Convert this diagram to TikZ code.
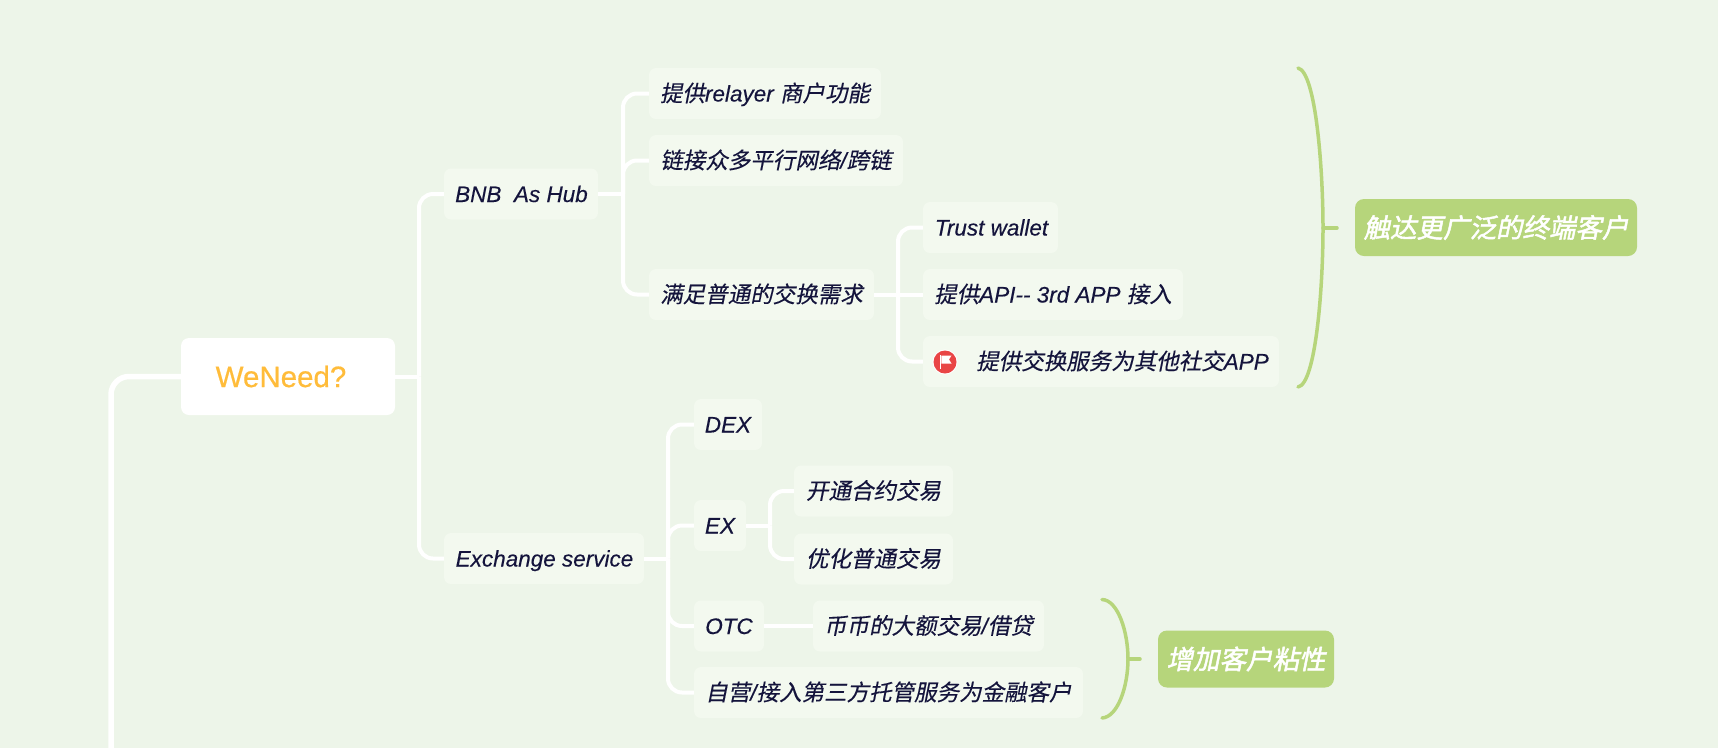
\documentclass[tikz,border=0pt]{standalone}
\usepackage{fontspec}
\setmainfont[ItalicFeatures={FakeBold=0.25}]{Liberation Sans}
\newfontfamily\rootfont[FakeBold=0.5]{Liberation Sans}
\newfontfamily\cjk[FakeSlant=0.2,FakeBold=0.25]{Noto Sans CJK SC}
\newfontfamily\cjkb[FakeSlant=0.2,FakeBold=1.8]{Noto Sans CJK SC}
\definecolor{bgc}{HTML}{EDF5E9}
\definecolor{leafc}{HTML}{F3F9EF}
\definecolor{inkc}{HTML}{14143C}
\definecolor{greenc}{HTML}{B6D57B}
\definecolor{orangec}{HTML}{FFBC3A}
\definecolor{flagc}{HTML}{E94545}
\tikzset{
  x=1pt,y=-1pt,
  leaf/.style={fill=leafc,rounded corners=7pt,inner sep=0pt,text=inkc,
    font=\itshape\fontsize{22.5}{27}\selectfont,minimum height=51pt,
    text height=21pt,text depth=5pt},
  rootbox/.style={fill=white,rounded corners=8pt,inner sep=0pt,text=orangec,
    font=\rootfont\fontsize{29.5}{34}\selectfont,minimum width=214pt,minimum height=77pt},
  summary/.style={fill=greenc,rounded corners=9pt,inner sep=0pt,text=white,
    font=\cjkb\fontsize{26.5}{32}\selectfont,minimum height=57pt},
  link/.style={draw=white,line width=4pt,rounded corners=14pt},
  spine/.style={draw=white,line width=5.5pt,rounded corners=18pt},
  bracket/.style={draw=greenc,line width=3.5pt,line cap=round},
}
\begin{document}
\begin{tikzpicture}
\useasboundingbox (0,0) rectangle (1718,748);
\fill[bgc] (0,0) rectangle (1718,748);

\coordinate (spineend) at (111,752);
\coordinate (jroot) at (419,376.5);
\coordinate (jbnb) at (623,194);
\coordinate (jswap) at (898,294.5);
\coordinate (jex) at (668,558.5);
\coordinate (jsub) at (770,525.5);

\node[rootbox] (root) at (288,376.5) {\hspace*{-14pt}WeNeed?};
\node[leaf,minimum width=154pt] (bnb) at (521,194) {\hspace*{1pt}BNB\ \ As Hub};
\node[leaf,minimum width=200pt] (exch) at (544,558.5) {\hspace*{1pt}Exchange service};
\node[leaf,minimum width=232pt] (relayer) at (765,93.5) {{\cjk 提供}relayer {\cjk 商户功能}};
\node[leaf,minimum width=254pt] (chain) at (776,160.5) {{\cjk 链接众多平行网络}/{\cjk 跨链}};
\node[leaf,minimum width=225pt] (swap) at (761.5,294.5) {{\cjk 满足普通的交换需求}};
\node[leaf,minimum width=135pt] (trust) at (990.5,227.5) {\hspace*{2pt}Trust wallet};
\node[leaf,minimum width=260pt] (api) at (1053,294.5) {{\cjk 提供}API-{}- 3rd APP {\cjk 接入}};
\node[leaf,minimum width=356pt] (social) at (1101,361.5) {\hspace*{43pt}{\cjk 提供交换服务为其他社交}APP};
\node[leaf,minimum width=68pt] (dex) at (728,424.5) {DEX};
\node[leaf,minimum width=52pt] (ex) at (720,525.5) {EX};
\node[leaf,minimum width=159pt] (futures) at (873.5,491) {{\cjk 开通合约交易}};
\node[leaf,minimum width=159pt] (spot) at (873.5,559) {{\cjk 优化普通交易}};
\node[leaf,minimum width=70pt] (otc) at (729,626) {OTC};
\node[leaf,minimum width=231pt] (loan) at (928.5,626) {{\cjk 币币的大额交易}/{\cjk 借贷}};
\node[leaf,minimum width=389pt] (custody) at (888.5,692.5) {{\cjk 自营}/{\cjk 接入第三方托管服务为金融客户}};
\node[summary,minimum width=282pt] (reach) at (1496,227.5) {触达更广泛的终端客户};
\node[summary,minimum width=176pt] (sticky) at (1246,659) {增加客户粘性};

\draw[spine] (root.west) -| (spineend);
\draw[link,rounded corners=0pt] (root.east) -- (jroot);
\draw[link] (jroot) |- (bnb.west);
\draw[link] (jroot) |- (exch.west);
\draw[link,rounded corners=0pt] (bnb.east) -- (jbnb);
\draw[link] (jbnb) |- (relayer.west);
\draw[link] (jbnb) |- (chain.west);
\draw[link] (jbnb) |- (swap.west);
\draw[link,rounded corners=0pt] (swap.east) -- (api.west);
\draw[link] (jswap) |- (trust.west);
\draw[link] (jswap) |- (social.west);
\draw[link,rounded corners=0pt] (exch.east) -- (jex);
\draw[link] (jex) |- (dex.west);
\draw[link] (jex) |- (ex.west);
\draw[link] (jex) |- (otc.west);
\draw[link] (jex) |- (custody.west);
\draw[link,rounded corners=0pt] (ex.east) -- (jsub);
\draw[link] (jsub) |- (futures.west);
\draw[link] (jsub) |- (spot.west);
\draw[link,rounded corners=0pt] (otc.east) -- (loan.west);

\fill[white] (945,362) circle (12.5);
\fill[flagc] (945,362) circle (11.5);
\fill[white] (939.5,355) rectangle (941.3,369);
\fill[white] (941.3,355.5) -- (951.5,355.5) -- (949,359.5) -- (951.5,363.5) -- (941.3,363.5) -- cycle;

\coordinate (b1top) at (1298,68);
\coordinate (b1mid) at (1323,228);
\coordinate (b1bot) at (1298,387);
\coordinate (b1tick) at (1337,228);
\draw[bracket] (b1top) .. controls (1316,72) and (1323,170) .. (b1mid)
  .. controls (1323,286) and (1316,384) .. (b1bot);
\draw[bracket] (b1mid) -- (b1tick);
\coordinate (b2top) at (1102,599.5);
\coordinate (b2mid) at (1128,659);
\coordinate (b2bot) at (1102,718);
\coordinate (b2tick) at (1140,659);
\draw[bracket] (b2top) .. controls (1118,600) and (1128,632) .. (b2mid)
  .. controls (1128,686) and (1118,717) .. (b2bot);
\draw[bracket] (b2mid) -- (b2tick);
\end{tikzpicture}
\end{document}
